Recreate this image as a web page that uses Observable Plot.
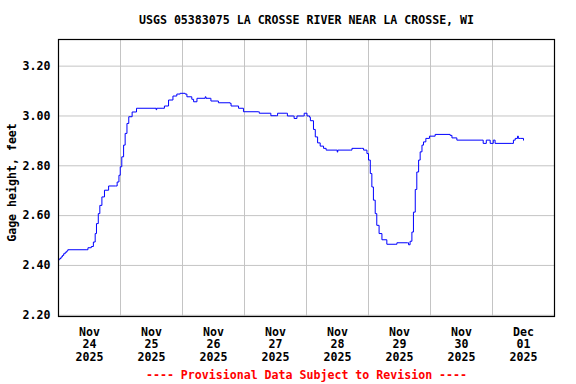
<!DOCTYPE html>
<html><head><meta charset="utf-8">
<script src="https://cdn.jsdelivr.net/npm/d3@7"></script>
<script src="https://cdn.jsdelivr.net/npm/@observablehq/plot@0.6"></script>
<style>body{margin:0;background:#fff}</style>
</head><body><div id="chart"></div>
<script>
const startDate = "2025-11-24T00:00:00Z";
const titleText = "USGS 05383075 LA CROSSE RIVER NEAR LA CROSSE, WI";
const yLabelText = "Gage height, feet";
const footerText = "---- Provisional Data Subject to Revision ----";
const dayLabels = ["Nov\n24\n2025","Nov\n25\n2025","Nov\n26\n2025","Nov\n27\n2025","Nov\n28\n2025","Nov\n29\n2025","Nov\n30\n2025","Dec\n01\n2025"];
const yTicks = [2.2, 2.4, 2.6, 2.8, 3.0, 3.2];
const hoursSinceStart = [0,0.5,1.0,1.5,2.0,2.6,3.2,3.6,11.0,11.4,12.7,13.5,14.2,14.7,15.4,16.0,16.8,17.8,19.4,22.1,22.7,23.4,23.9,24.5,25.2,25.8,26.5,27.2,28.5,30.2,37.8,38.0,40.1,41.0,42.6,44.3,45.8,47.1,49.0,49.7,51.6,52.3,53.6,56.8,57.1,58.7,59.0,61.9,66.4,66.8,69.7,71.6,77.4,77.7,81.9,82.2,84.5,84.8,88.4,88.6,91.0,91.2,92.3,94.8,95.1,96.2,97.2,97.5,98.7,99.4,100.3,101.3,102.6,103.6,107.9,108.1,112.9,113.6,117.4,118.1,119.4,120.0,120.7,121.3,121.9,122.6,123.2,124.1,125.2,127.1,130.3,131.0,135.1,135.5,136.1,136.8,137.4,138.1,138.7,139.4,140.0,140.7,141.3,142.2,143.6,145.8,151.6,152.3,154.2,163.9,164.4,165.6,167.1,168.3,169.0,175.5,176.1,176.8,177.7,178.0,178.7,180.0];
const gageHeight = [2.423,2.428,2.434,2.440,2.447,2.453,2.458,2.463,2.463,2.471,2.476,2.494,2.528,2.568,2.608,2.641,2.675,2.702,2.719,2.719,2.735,2.762,2.796,2.836,2.883,2.930,2.970,2.997,3.016,3.031,3.025,3.031,3.031,3.040,3.064,3.080,3.088,3.091,3.088,3.077,3.067,3.057,3.071,3.077,3.071,3.071,3.060,3.053,3.051,3.040,3.031,3.017,3.017,3.011,3.011,3.001,3.001,3.011,3.011,3.000,3.000,2.990,3.000,3.000,3.011,3.000,2.995,2.981,2.946,2.916,2.892,2.879,2.870,2.863,2.855,2.863,2.863,2.870,2.870,2.863,2.849,2.823,2.769,2.715,2.662,2.608,2.561,2.528,2.503,2.485,2.485,2.491,2.491,2.483,2.497,2.534,2.614,2.705,2.775,2.823,2.856,2.883,2.896,2.910,2.919,2.926,2.922,2.912,2.903,2.903,2.890,2.903,2.890,2.903,2.890,2.890,2.903,2.910,2.919,2.910,2.910,2.903];

const t0 = new Date(startDate).getTime();
const DAY = 86400e3;
const data = hoursSinceStart.map((h, i) => ({t: new Date(t0 + h * 3600e3), v: gageHeight[i]}));
const midnights = d3.range(9).map(d => new Date(t0 + d * DAY));
const noons = d3.range(8).map(d => new Date(t0 + (d + 0.5) * DAY));
const font = "'DejaVu Sans Mono', monospace";

const chart = Plot.plot({
  width: 576, height: 384,
  marginLeft: 58, marginRight: 22, marginTop: 39, marginBottom: 68,
  style: {fontFamily: font, fontSize: "11.6px", fontWeight: "bold", color: "black", background: "white", overflow: "visible"},
  x: {type: "utc", domain: [midnights[0], midnights[8]]},
  y: {domain: [2.195, 3.307]},
  marks: [
    Plot.gridX(midnights.slice(1, 8), {stroke: "#c4c4c4", strokeOpacity: 1}),
    Plot.gridY(yTicks, {stroke: "#c4c4c4", strokeOpacity: 1}),
    Plot.axisX(noons, {tickSize: 0, tickPadding: 10, lineHeight: 1.1, label: null,
      tickFormat: d => dayLabels[Math.floor((d - t0) / DAY)]}),
    Plot.axisY(yTicks, {tickSize: 0, tickPadding: 8, label: null, tickFormat: d3.format(".2f")}),
    Plot.line(data, {x: "t", y: "v", stroke: "#0000ff", strokeWidth: 1, curve: "step-after"}),
    Plot.frame({stroke: "black", strokeWidth: 1.2}),
    Plot.text([titleText], {frameAnchor: "top", lineAnchor: "middle", textAnchor: "middle", dy: -19, fill: "black"}),
    Plot.text([yLabelText], {frameAnchor: "left", lineAnchor: "middle", textAnchor: "middle", rotate: -90, dx: -46.5, dy: 4.5, fill: "black"}),
    Plot.text([footerText], {frameAnchor: "bottom", lineAnchor: "middle", textAnchor: "middle", dy: 59, fill: "#ff0000"})
  ]
});
document.getElementById("chart").appendChild(chart);
</script>
</body></html>
